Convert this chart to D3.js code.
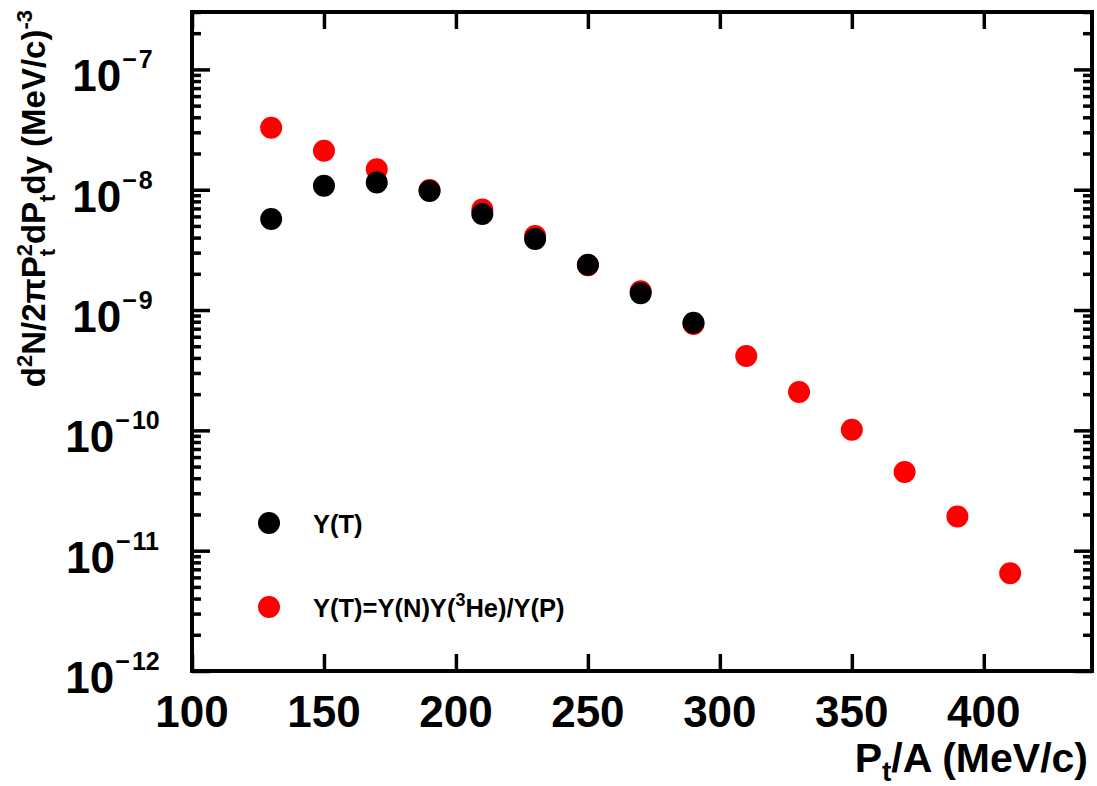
<!DOCTYPE html>
<html>
<head>
<meta charset="utf-8">
<script src="https://cdn.jsdelivr.net/npm/d3@7"></script>
<style>
  html, body { margin: 0; padding: 0; background: #fff; }
  svg { display: block; }
  text { font-family: "Liberation Sans", Arial, Helvetica, sans-serif; font-weight: bold; fill: #000; }
</style>
</head>
<body>
<svg id="chart" width="1097" height="786"></svg>
<script>
// ---- data ----
const ptBlack = [130, 150, 170, 190, 210, 230, 250, 270, 290];
const yieldBlack = [5.72e-9, 1.08e-8, 1.15e-8, 9.77e-9, 6.29e-9, 3.90e-9, 2.38e-9, 1.38e-9, 7.85e-10];
const ptRed = [130, 150, 170, 190, 210, 230, 250, 270, 290, 310, 330, 350, 370, 390, 410];
const yieldRed = [3.28e-8, 2.11e-8, 1.48e-8, 9.96e-9, 6.84e-9, 4.13e-9, 2.36e-9, 1.43e-9, 7.66e-10,
                  4.15e-10, 2.08e-10, 1.01e-10, 4.51e-11, 1.92e-11, 6.49e-12];
const xTicks = [100, 150, 200, 250, 300, 350, 400];
const yExponents = [-12, -11, -10, -9, -8, -7];
const legendLabels = ["Y(T)", "Y(T)=Y(N)Y(3He)/Y(P)"];

// ---- layout ----
const L = 192, R = 1092, T = 12, B = 671;
const svg = d3.select("#chart");
const x = d3.scaleLinear().domain([100, 441]).range([L, R]);
const y = d3.scaleLog().domain([1e-12, 3e-7]).range([B, T]);

// minor log ticks
const yMinor = [];
for (let e = -12; e <= -7; e++) for (let m = 2; m <= 9; m++) {
  const v = m * Math.pow(10, e);
  if (v >= 1e-12 && v <= 3e-7) yMinor.push(v);
}
const yMajor = yExponents.map(e => Math.pow(10, e));

function styleAxis(g) {
  g.select(".domain").remove();
  g.selectAll(".tick line").attr("stroke", "#000").attr("stroke-width", 3.5);
  g.selectAll(".tick text").remove();
}
// bottom & top x ticks (inward)
svg.append("g").attr("transform", `translate(0,${B})`)
  .call(d3.axisBottom(x).tickValues(xTicks).tickSize(-17).tickFormat("")).call(styleAxis);
svg.append("g").attr("transform", `translate(0,${T})`)
  .call(d3.axisTop(x).tickValues(xTicks).tickSize(-17).tickFormat("")).call(styleAxis);
// left & right y ticks
svg.append("g").attr("transform", `translate(${L},0)`)
  .call(d3.axisLeft(y).tickValues(yMajor).tickSize(-18).tickFormat("")).call(styleAxis);
svg.append("g").attr("transform", `translate(${L},0)`)
  .call(d3.axisLeft(y).tickValues(yMinor).tickSize(-9).tickFormat("")).call(styleAxis);
svg.append("g").attr("transform", `translate(${R},0)`)
  .call(d3.axisRight(y).tickValues(yMajor).tickSize(-18).tickFormat("")).call(styleAxis);
svg.append("g").attr("transform", `translate(${R},0)`)
  .call(d3.axisRight(y).tickValues(yMinor).tickSize(-9).tickFormat("")).call(styleAxis);

// frame
svg.append("rect").attr("x", L).attr("y", T).attr("width", R - L).attr("height", B - T)
  .attr("fill", "none").attr("stroke", "#000").attr("stroke-width", 4);

// x tick labels
svg.append("g").selectAll("text").data(xTicks).join("text")
  .attr("x", d => x(d)).attr("y", B + 56)
  .attr("text-anchor", "middle").attr("font-size", 44)
  .text(d => d);

// y tick labels (centred like ROOT)
const yl = svg.append("g").selectAll("text").data(yExponents).join("text")
  .attr("x", 112.5).attr("y", d => y(Math.pow(10, d)) + 22)
  .attr("text-anchor", "middle").attr("font-size", 44);
yl.append("tspan").text("10");
yl.append("tspan").attr("font-size", 25).attr("dy", -23).attr("dx", 1).text("\u2212");
yl.append("tspan").attr("font-size", 25).attr("dx", 2).text(d => String(-d));

// data points (red first, black on top)
svg.append("g").selectAll("circle").data(ptRed.map((p, i) => [p, yieldRed[i]])).join("circle")
  .attr("cx", d => x(d[0])).attr("cy", d => y(d[1])).attr("r", 11).attr("fill", "#ff0000");
svg.append("g").selectAll("circle").data(ptBlack.map((p, i) => [p, yieldBlack[i]])).join("circle")
  .attr("cx", d => x(d[0])).attr("cy", d => y(d[1])).attr("r", 11).attr("fill", "#000");

// legend
const legColors = ["#000", "#ff0000"];
const legY = [523, 607];
legendLabels.forEach((lab, i) => {
  svg.append("circle").attr("cx", 269).attr("cy", legY[i]).attr("r", 11).attr("fill", legColors[i]);
  const t = svg.append("text").attr("x", 313).attr("y", legY[i] + 10).attr("font-size", 25.5);
  if (lab.includes("3He")) {
    const parts = lab.split("3He");
    t.append("tspan").text(parts[0]);
    t.append("tspan").attr("font-size", 18).attr("dy", -11).text("3");
    t.append("tspan").attr("dy", 11).text("He" + parts[1]);
  } else {
    t.text(lab);
  }
});

// x axis title
const xt = svg.append("text").attr("x", 1088).attr("y", 772).attr("text-anchor", "end").attr("font-size", 41);
xt.append("tspan").text("P");
xt.append("tspan").attr("font-size", 28).attr("dy", 9).text("t");
xt.append("tspan").attr("dy", -9).text("/A (MeV/c)");

// y axis title
const ytt = svg.append("text").attr("transform", "translate(45,10) rotate(-90)")
  .attr("text-anchor", "end").attr("font-size", 33);
ytt.append("tspan").text("d");
ytt.append("tspan").attr("font-size", 22).attr("dy", -13).text("2");
ytt.append("tspan").attr("dy", 13).text("N/2\u03c0P");
ytt.append("tspan").attr("font-size", 22).attr("dy", 10).text("t");
ytt.append("tspan").attr("font-size", 22).attr("dy", -23).attr("dx", -7.5).text("2");
ytt.append("tspan").attr("dy", 13).text("dP");
ytt.append("tspan").attr("font-size", 22).attr("dy", 10).text("t");
ytt.append("tspan").attr("dy", -10).text("dy (MeV/c)");
ytt.append("tspan").attr("font-size", 22).attr("dy", -13).text("-3");
</script>
</body>
</html>
